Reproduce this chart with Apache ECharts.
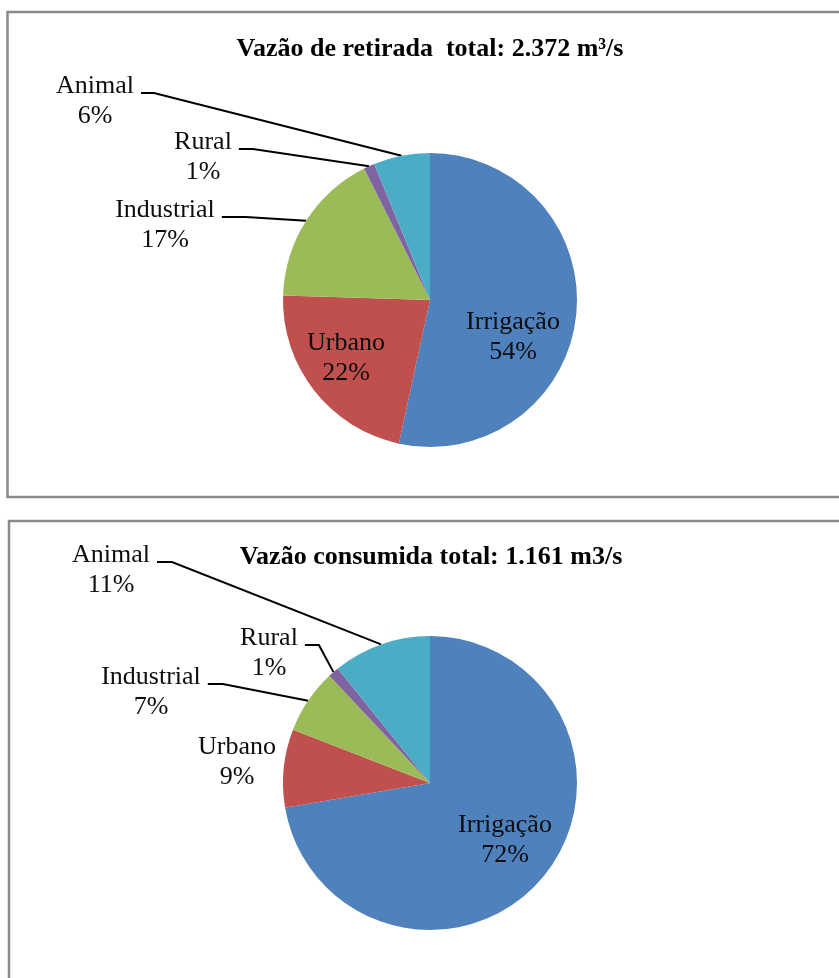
<!DOCTYPE html>
<html><head><meta charset="utf-8">
<script src="https://cdn.jsdelivr.net/npm/echarts@6/dist/echarts.min.js"></script>
<style>html,body{margin:0;padding:0;background:#fff;}#c{width:839px;height:978px;}</style>
</head><body><div id="c"></div>
<script>
// ---- data ----
const categories = ['Irrigação', 'Urbano', 'Industrial', 'Rural', 'Animal'];
const retiradaValues = [53.4, 22.1, 17.1, 1.2, 6.2];
const consumidaValues = [72.3, 8.6, 7.1, 1.2, 10.8];
const titles = ['Vazão de retirada  total: 2.372 m³/s', 'Vazão consumida total: 1.161 m3/s'];

// ---- styles ----
const colors = ['#4F81BD', '#C0504D', '#9BBB59', '#8064A2', '#4BACC6'];
const FONT = '"Liberation Serif", "Times New Roman", serif';
const placesTop = [
  {x: 513, y: 337, line: false},
  {x: 346, y: 358, line: false},
  {x: 165, y: 225, line: true, seg: 24},
  {x: 203, y: 157, line: true, seg: 14},
  {x: 95, y: 101, line: true, seg: 13}
];
const placesBottom = [
  {x: 505, y: 840, line: false},
  {x: 237, y: 762, line: false},
  {x: 151, y: 692, line: true, seg: 15},
  {x: 269, y: 653, line: true, seg: 14},
  {x: 111, y: 570, line: true, seg: 15}
];

function makeLayout(places) {
  return function (params) {
    const p = places[params.dataIndex];
    const w = params.labelRect.width;
    const out = {x: p.x, y: p.y, align: 'center', verticalAlign: 'middle'};
    if (p.line && params.labelLinePoints) {
      const x1 = p.x + w / 2 + 7, x2 = x1 + p.seg, y = p.y - 8;
      out.labelLinePoints = [params.labelLinePoints[0], [x2, y], [x1, y]];
    }
    return out;
  };
}

function makeSeries(values, center, places) {
  return {
    type: 'pie',
    center: center,
    radius: 147,
    startAngle: 90,
    clockwise: true,
    avoidLabelOverlap: false,
    percentPrecision: 0,
    silent: true,
    animation: false,
    label: {
      show: true, position: 'outside', formatter: '{b}\n{d}%',
      fontFamily: FONT, fontSize: 26, lineHeight: 30, color: '#0d0d0d', align: 'center'
    },
    labelLine: {show: true, lineStyle: {color: '#000', width: 2}},
    labelLayout: makeLayout(places),
    data: categories.map((c, i) => ({
      name: c, value: values[i],
      itemStyle: {color: colors[i]},
      labelLine: {show: places[i].line}
    }))
  };
}

const chart = echarts.init(document.getElementById('c'), null, {renderer: 'canvas'});
chart.setOption({
  backgroundColor: '#fff',
  animation: false,
  graphic: [
    {type: 'rect', shape: {x: 7.5, y: 12, width: 860, height: 485}, style: {fill: 'none', stroke: '#8a8a8a', lineWidth: 2.5}, silent: true},
    {type: 'rect', shape: {x: 9, y: 521, width: 860, height: 500}, style: {fill: 'none', stroke: '#8a8a8a', lineWidth: 2.5}, silent: true},
    {type: 'text', style: {text: titles[0], x: 430, y: 49, align: 'center', verticalAlign: 'middle', font: 'bold 26px ' + FONT, fill: '#000'}, silent: true},
    {type: 'text', style: {text: titles[1], x: 431, y: 557, align: 'center', verticalAlign: 'middle', font: 'bold 26px ' + FONT, fill: '#000'}, silent: true}
  ],
  series: [
    makeSeries(retiradaValues, [430, 300], placesTop),
    makeSeries(consumidaValues, [430, 783], placesBottom)
  ]
});
</script>
</body></html>
